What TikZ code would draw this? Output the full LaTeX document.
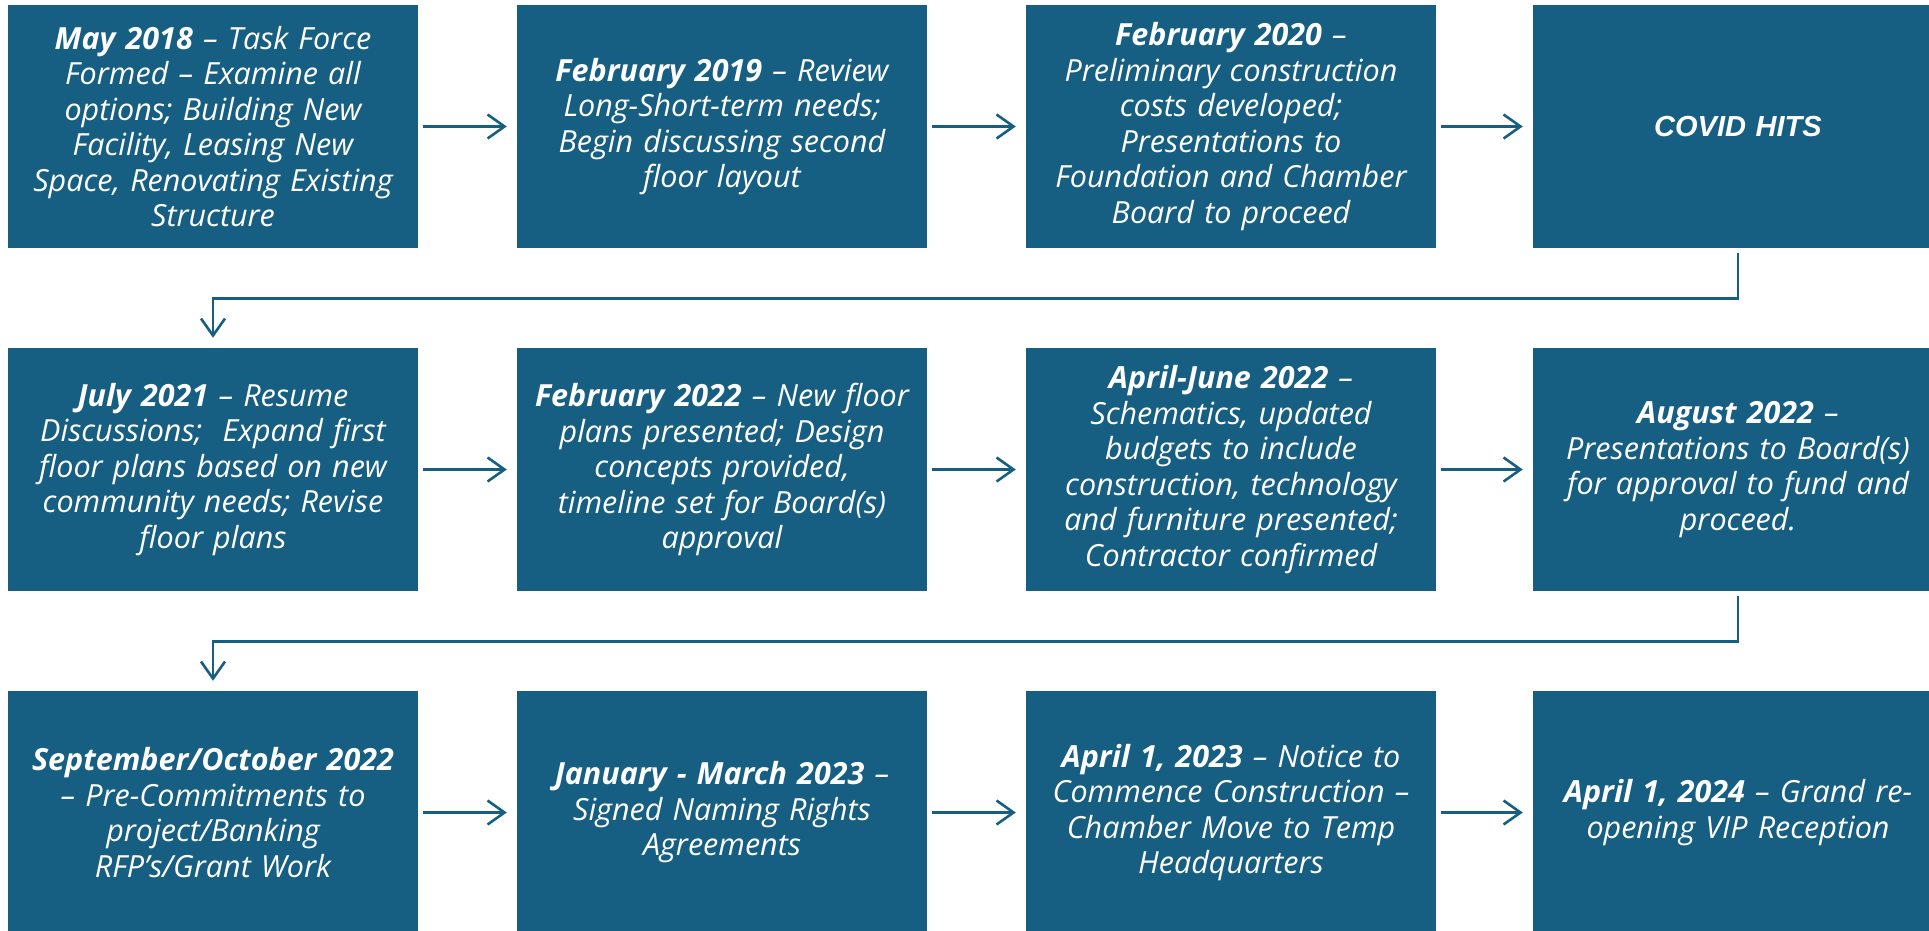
\documentclass[tikz,border=0pt]{standalone}
\usepackage{fontspec}
\setmainfont{Open Sans}
\newfontfamily\arialfont{Liberation Sans}
\usetikzlibrary{arrows.meta}
\definecolor{boxblue}{RGB}{23,95,130}
\begin{document}
\begin{tikzpicture}[x=1pt,y=-1pt,
  stagebox/.style={fill=boxblue, draw=none, text=white, minimum width=410pt,
    minimum height=243pt, inner sep=0pt, align=center, text width=404pt,
    font=\fontsize{30.5}{35.5}\selectfont\itshape},
  conn/.style={draw=boxblue, line width=2.6pt,
    -{Straight Barb[length=17pt,width=24pt,line width=2.6pt]},
    shorten <=5pt, shorten >=10pt}]
\useasboundingbox (0,0) rectangle (1929,931);
\def\hb#1{\textbf{#1}}
% first row
\node[stagebox] (s1) at (213,126.5) {\hb{May 2018} -- Task Force\\Formed -- Examine all\\options; Building New\\Facility, Leasing New\\Space, Renovating Existing\\Structure};
\node[stagebox] (s2) at (722,126.5) {\hb{February 2019} -- Review\\Long-Short-term needs;\\Begin discussing second\\floor layout};
\node[stagebox] (s3) at (1231,126.5) {\hb{February 2020} --\\Preliminary construction\\costs developed;\\Presentations to\\Foundation and Chamber\\Board to proceed};
\node[stagebox, font=\arialfont\fontsize{29}{35}\selectfont\bfseries\itshape] (s4) at (1738,126.5) {COVID HITS};
% second row
\node[stagebox] (s5) at (213,469.5) {\hb{July 2021} -- Resume\\Discussions;\ \ Expand first\\floor plans based on new\\community needs; Revise\\floor plans};
\node[stagebox] (s6) at (722,469.5) {\hb{February 2022} -- New floor\\plans presented; Design\\concepts provided,\\timeline set for Board(s)\\approval};
\node[stagebox] (s7) at (1231,469.5) {\hb{April-June 2022} --\\Schematics, updated\\budgets to include\\construction, technology\\and furniture presented;\\Contractor confirmed};
\node[stagebox] (s8) at (1738,469.5) {\hb{August 2022} --\\Presentations to Board(s)\\for approval to fund and\\proceed.};
% third row
\node[stagebox] (s9) at (213,812.5) {\hb{September/October 2022}\\-- Pre-Commitments to\\project/Banking\\RFP’s/Grant Work};
\node[stagebox] (s10) at (722,812.5) {\hb{January - March 2023} --\\Signed Naming Rights\\Agreements};
\node[stagebox] (s11) at (1231,812.5) {\hb{April 1, 2023} -- Notice to\\Commence Construction --\\Chamber Move to Temp\\Headquarters};
\node[stagebox] (s12) at (1738,812.5) {\hb{April 1, 2024} -- Grand re-\\opening VIP Reception};
% connectors
\foreach \a/\b in {s1/s2,s2/s3,s3/s4,s5/s6,s6/s7,s7/s8,s9/s10,s10/s11,s11/s12}
  \draw[conn] (\a.east) -- (\b.west);
\draw[conn] (s4.south) -- ++(0,50) -| (s5.north);
\draw[conn] (s8.south) -- ++(0,50) -| (s9.north);
\end{tikzpicture}
\end{document}
